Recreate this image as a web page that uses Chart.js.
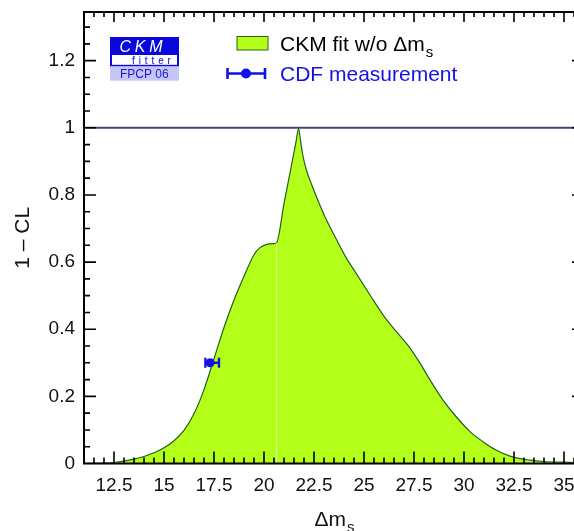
<!DOCTYPE html>
<html><head><meta charset="utf-8">
<script src="https://cdn.jsdelivr.net/npm/chart.js@4.4.1/dist/chart.umd.min.js"></script>
<style>
html,body{margin:0;padding:0;background:#fff;overflow:hidden;}
#wrap{position:relative;width:600px;height:531px;}
</style></head><body>
<div id="wrap"><canvas id="c"></canvas></div>
<script>
// ---- data ----
const fitX = [11.0, 11.5, 12.0, 12.5, 13.0, 13.5, 14.0, 14.5, 15.0, 15.5, 16.0, 16.5, 17.0, 17.5, 18.0, 18.5, 19.0, 19.5, 19.8, 20.1, 20.4, 20.62, 21.0, 21.3, 21.6, 21.73, 21.82, 21.92, 22.1, 22.4, 22.75, 23.1, 23.6, 24.1, 24.6, 25.3, 25.95, 26.6, 27.3, 27.8, 28.3, 28.95, 29.6, 30.3, 30.95, 31.6, 32.3, 33.3, 34.0, 35.0, 36.0];
const fitY = [0.0, 0.0005, 0.001, 0.003, 0.007, 0.013, 0.021, 0.032, 0.047, 0.068, 0.099, 0.148, 0.220, 0.312, 0.405, 0.487, 0.558, 0.622, 0.643, 0.652, 0.655, 0.657, 0.774, 0.866, 0.958, 0.998, 0.965, 0.925, 0.878, 0.828, 0.776, 0.728, 0.670, 0.614, 0.567, 0.502, 0.443, 0.394, 0.344, 0.299, 0.249, 0.189, 0.140, 0.095, 0.065, 0.040, 0.022, 0.010, 0.006, 0.004, 0.002];
const cdfX = [17.31];
const cdfY = [0.30];
const cdfLo = [17.07];
const cdfHi = [17.75];
const seamX = [20.62];
const seamTop = [0.657];
const refLevel = [1.0];
const xTickValues = [12.5, 15, 17.5, 20, 22.5, 25, 27.5, 30, 32.5, 35];
const yTickValues = [0, 0.2, 0.4, 0.6, 0.8, 1, 1.2];
const xRange = [11, 36];
const yRange = [0, 1.345];
const legendFit = ['CKM fit w/o \u0394m', 's'];
const legendCdf = 'CDF measurement';
const xTitle = ['\u0394m', 's'];
const yTitle = '1 \u2013 CL';
const logoTexts = ['CKM', 'fitter', 'FPCP 06'];

const FONT = "'Liberation Sans', Arial, Helvetica, sans-serif";
const LIME = '#b3ff1a';
const DKGREEN = '#24601c';
const BLUE = '#1212e6';

function spaced(ctx, text, x, y, gap) {
  for (const ch of text) { ctx.fillText(ch, x, y); x += ctx.measureText(ch).width + gap; }
}

const framePlugin = {
  id: 'frame',
  afterDatasetDraw(chart, args) {
    if (args.index !== 2) return;
    const ctx = chart.ctx;
    const xs = chart.scales.x, ys = chart.scales.y;
    ctx.save();
    ctx.strokeStyle = BLUE; ctx.lineWidth = 2.4;
    for (let i = 0; i < cdfX.length; i++) {
      const y = ys.getPixelForValue(cdfY[i]);
      const x1 = xs.getPixelForValue(cdfLo[i]), x2 = xs.getPixelForValue(cdfHi[i]);
      ctx.beginPath();
      ctx.moveTo(x1, y); ctx.lineTo(x2, y);
      ctx.moveTo(x1, y - 5); ctx.lineTo(x1, y + 5);
      ctx.moveTo(x2, y - 5); ctx.lineTo(x2, y + 5);
      ctx.stroke();
    }
    ctx.restore();
  },
  afterDatasetsDraw(chart) {
    const ctx = chart.ctx, a = chart.chartArea;
    const xs = chart.scales.x, ys = chart.scales.y;
    ctx.save();
    ctx.strokeStyle = '#000'; ctx.lineWidth = 2;
    ctx.beginPath();
    ctx.moveTo(a.left, a.top); ctx.lineTo(a.left, a.bottom); ctx.lineTo(a.right, a.bottom); ctx.lineTo(a.right, a.top); ctx.closePath();
    ctx.stroke();
    ctx.lineWidth = 1.6;
    ctx.beginPath();
    for (let v = xRange[0] + 0.5; v < xRange[1] - 1e-6; v += 0.5) {
      const major = xTickValues.some(t => Math.abs(t - v) < 1e-6);
      const len = major ? 12 : 6;
      const px = xs.getPixelForValue(v);
      ctx.moveTo(px, a.bottom); ctx.lineTo(px, a.bottom - len);
      ctx.moveTo(px, a.top); ctx.lineTo(px, a.top + (major ? 10 : 5));
    }
    for (let v = yRange[0] + 0.05; v < yRange[1] - 1e-6; v += 0.05) {
      const major = yTickValues.some(t => Math.abs(t - v) < 1e-6);
      const len = major ? 12 : 6;
      const py = ys.getPixelForValue(v);
      ctx.moveTo(a.left, py); ctx.lineTo(a.left + len, py);
      ctx.moveTo(a.right, py); ctx.lineTo(a.right - len, py);
    }
    ctx.stroke();
    ctx.restore();
  },
  afterDraw(chart) {
    const ctx = chart.ctx, a = chart.chartArea;
    ctx.save();
    ctx.fillStyle = '#111';
    ctx.font = '21px ' + FONT;
    ctx.textBaseline = 'alphabetic';
    ctx.save();
    ctx.translate(28.5, (a.top + a.bottom) / 2);
    ctx.rotate(-Math.PI / 2);
    ctx.textAlign = 'center';
    ctx.fillText(yTitle, 0, 0);
    ctx.restore();
    ctx.textAlign = 'left';
    ctx.font = '21px ' + FONT;
    const w1 = ctx.measureText(xTitle[0]).width;
    ctx.font = '15px ' + FONT;
    const w2 = ctx.measureText(xTitle[1]).width;
    let x0 = (a.left + a.right) / 2 - (w1 + w2) / 2;
    ctx.font = '21px ' + FONT;
    ctx.fillText(xTitle[0], x0, 526);
    ctx.font = '15px ' + FONT;
    ctx.fillText(xTitle[1], x0 + w1 + 1, 532);

    // legend
    ctx.fillStyle = LIME; ctx.fillRect(237, 36.5, 31, 13.5);
    ctx.strokeStyle = DKGREEN; ctx.lineWidth = 1; ctx.strokeRect(237, 36.5, 31, 13.5);
    ctx.fillStyle = '#000';
    ctx.font = '21px ' + FONT;
    ctx.fillText(legendFit[0], 280, 50.5);
    const lw = ctx.measureText(legendFit[0]).width;
    ctx.font = '15px ' + FONT;
    ctx.fillText(legendFit[1], 280 + lw + 1, 57);
    ctx.strokeStyle = BLUE; ctx.lineWidth = 2.6;
    ctx.beginPath();
    ctx.moveTo(226.5, 73.5); ctx.lineTo(266, 73.5);
    ctx.moveTo(227.5, 68); ctx.lineTo(227.5, 79);
    ctx.moveTo(265, 68); ctx.lineTo(265, 79);
    ctx.stroke();
    ctx.fillStyle = BLUE;
    ctx.beginPath(); ctx.arc(246, 73.5, 5, 0, Math.PI * 2); ctx.fill();
    ctx.font = '21px ' + FONT;
    ctx.fillText(legendCdf, 280, 81);

    // CKMfitter logo
    ctx.fillStyle = '#0808dc'; ctx.fillRect(110, 37, 69, 29.5);
    ctx.fillStyle = '#fff'; ctx.fillRect(112, 55, 65, 9.8);
    ctx.fillStyle = '#c6c6f6'; ctx.fillRect(110, 66.5, 69, 14.2);
    ctx.fillStyle = '#fff';
    ctx.font = 'italic 16px ' + FONT;
    spaced(ctx, logoTexts[0], 119.5, 51.7, 3.8);
    ctx.fillStyle = '#0808dc';
    ctx.font = '10px ' + FONT;
    spaced(ctx, logoTexts[1], 132, 63.5, 3.9);
    ctx.fillStyle = '#1a1ad0';
    ctx.font = '12px ' + FONT;
    ctx.fillText(logoTexts[2], 120, 77.8);
    ctx.restore();
  }
};

const tickFont = { family: FONT, size: 19 };
new Chart(document.getElementById('c'), {
  type: 'line',
  data: {
    datasets: [
      { data: fitX.map((x, i) => ({ x, y: fitY[i] })), borderColor: DKGREEN, borderWidth: 1.2, backgroundColor: LIME, fill: 'origin', pointRadius: 0, cubicInterpolationMode: 'monotone', order: 4 },
      { data: [{ x: seamX[0], y: 0 }, { x: seamX[0], y: seamTop[0] }], borderColor: 'rgba(222,255,170,0.9)', borderWidth: 1, pointRadius: 0, fill: false, order: 3 },
      { data: [{ x: xRange[0], y: refLevel[0] }, { x: xRange[1], y: refLevel[0] }], borderColor: '#44447a', borderWidth: 2, pointRadius: 0, fill: false, order: 2 },
      { data: cdfX.map((x, i) => ({ x, y: cdfY[i] })), showLine: false, pointRadius: 4.5, pointBackgroundColor: BLUE, pointBorderWidth: 0, order: 1 }
    ]
  },
  options: {
    animation: false, responsive: true, maintainAspectRatio: false,
    layout: { padding: { top: 12, right: 16, left: 0, bottom: 0 } },
    plugins: { legend: { display: false }, tooltip: { enabled: false } },
    scales: {
      x: {
        type: 'linear', min: xRange[0], max: xRange[1],
        grid: { display: false, drawTicks: false }, border: { display: false },
        ticks: { font: tickFont, color: '#111', padding: 11, maxRotation: 0, autoSkip: false, callback: v => String(v) },
        afterBuildTicks: s => { s.ticks = xTickValues.map(v => ({ value: v })); },
        afterFit: s => { s.height = 67.5; s.paddingLeft = 0; s.paddingRight = 0; s.paddingTop = 0; s.paddingBottom = 0; }
      },
      y: {
        type: 'linear', min: yRange[0], max: yRange[1],
        grid: { display: false, drawTicks: false }, border: { display: false },
        ticks: { font: tickFont, color: '#111', padding: 9, autoSkip: false, callback: v => String(v) },
        afterBuildTicks: s => { s.ticks = yTickValues.map(v => ({ value: v })); },
        afterFit: s => { s.width = 84; s.paddingLeft = 0; s.paddingRight = 0; s.paddingTop = 0; s.paddingBottom = 0; }
      }
    }
  },
  plugins: [framePlugin]
});
</script>
</body></html>
